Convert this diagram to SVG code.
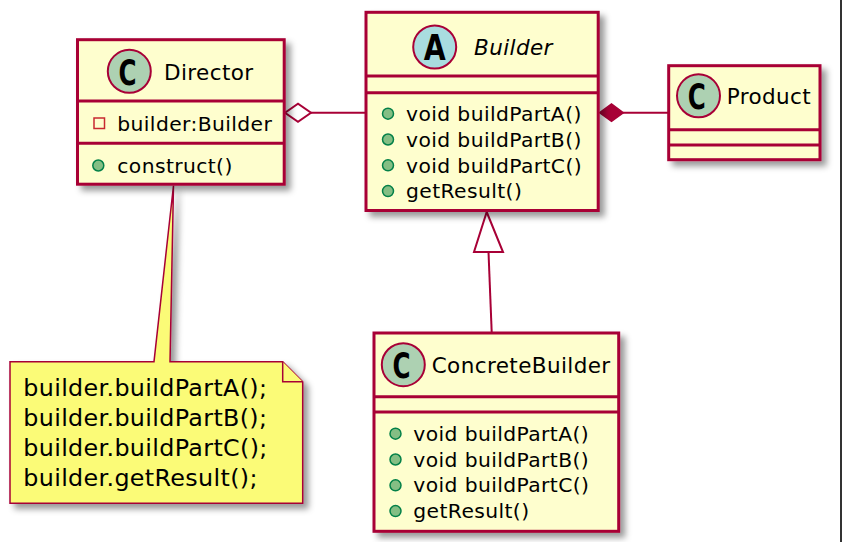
<svg xmlns="http://www.w3.org/2000/svg" width="842" height="542" viewBox="0 0 842 542">
<defs>
<filter id="sh" x="-10%" y="-10%" width="130%" height="130%">
<feGaussianBlur in="SourceAlpha" stdDeviation="3.2"/>
<feOffset dx="5" dy="5" result="b"/>
<feFlood flood-color="#000" flood-opacity="0.4"/>
<feComposite in2="b" operator="in"/>
<feMerge><feMergeNode/><feMergeNode in="SourceGraphic"/></feMerge>
</filter>
<style>
.box{fill:#FEFECE;stroke:#A80036;stroke-width:3}
.sep{stroke:#A80036;stroke-width:3;fill:none}
.hdr{font-family:"DejaVu Sans",sans-serif;font-size:21.5px;letter-spacing:0.4px;fill:#000}
.it{font-style:italic}
.mem{font-family:"DejaVu Sans",sans-serif;font-size:20.3px;letter-spacing:0.4px;fill:#000}
.nt{font-family:"DejaVu Sans",sans-serif;font-size:23.8px;letter-spacing:0.35px;fill:#000}
.cc{fill:#ADD1B2;stroke:#A80036;stroke-width:2}
.ca{fill:#A9DCDF;stroke:#A80036;stroke-width:2}
.glyph{font-family:"DejaVu Sans",sans-serif;font-weight:bold;font-size:36px;fill:#000;text-anchor:middle}
.pub{fill:#84BE84;stroke:#038048;stroke-width:1.5}
.priv{fill:none;stroke:#C82930;stroke-width:1.5}
.ln{stroke:#A80036;stroke-width:2;fill:none}
.note{fill:#FBFB77;stroke:#A80036;stroke-width:1.5}
</style>
</defs>
<rect x="0" y="0" width="842" height="542" fill="#FFFFFF"/>
<rect x="840" y="0" width="2" height="542" fill="#333333"/>

<g id="connectors">
<line class="ln" x1="311" y1="112.7" x2="366" y2="112.7"/>
<polygon points="285,112.7 298,103.7 311,112.7 298,121.7" fill="#FFFFFF" stroke="#A80036" stroke-width="2"/>
<line class="ln" x1="623" y1="112.7" x2="668" y2="112.7"/>
<polygon points="599.7,112.7 611.5,104 623.3,112.7 611.5,121.4" fill="#A80036" stroke="#A80036" stroke-width="1.5"/>
<line class="ln" x1="488.5" y1="252" x2="491.7" y2="332"/>
<polygon points="486.7,212 503,252 474,252" fill="#FFFFFF" stroke="#A80036" stroke-width="2"/>
</g>

<g id="note">
<path class="note" filter="url(#sh)" d="M10,361.7 L154,361.7 L173.5,185.5 L170,361.7 L282.7,361.7 L302.7,381.7 L302.7,503.3 L10,503.3 Z"/>
<path class="note" d="M282.7,361.7 L282.7,381.7 L302.7,381.7"/>
<text class="nt" x="23.3" y="396">builder.buildPartA();</text>
<text class="nt" x="23.3" y="426">builder.buildPartB();</text>
<text class="nt" x="23.3" y="456">builder.buildPartC();</text>
<text class="nt" x="23.3" y="486">builder.getResult();</text>
</g>

<g id="Director">
<rect class="box" filter="url(#sh)" x="77.5" y="39.7" width="206.7" height="144.5"/>
<line class="sep" x1="77.5" y1="101" x2="284.2" y2="101"/>
<line class="sep" x1="77.5" y1="143.3" x2="284.2" y2="143.3"/>
<circle class="cc" cx="129.3" cy="71.3" r="21.5"/>
<text class="glyph" x="127.5" y="84.5" textLength="18" lengthAdjust="spacingAndGlyphs">C</text>
<text class="hdr" x="164" y="79.5">Director</text>
<rect class="priv" x="94" y="118" width="10.5" height="10.5"/>
<text class="mem" x="117.3" y="130.7">builder:Builder</text>
<circle class="pub" cx="98.3" cy="165.5" r="5.5"/>
<text class="mem" x="117.3" y="172.7">construct()</text>
</g>

<g id="Builder">
<rect class="box" filter="url(#sh)" x="366" y="12.3" width="232.2" height="198.2"/>
<line class="sep" x1="366" y1="76" x2="598.2" y2="76"/>
<line class="sep" x1="366" y1="92.7" x2="598.2" y2="92.7"/>
<circle class="ca" cx="434.7" cy="47" r="21.5"/>
<text class="glyph" x="434.7" y="60" textLength="22" lengthAdjust="spacingAndGlyphs">A</text>
<text class="hdr it" x="474" y="54.5">Builder</text>
<circle class="pub" cx="388" cy="113.7" r="5.5"/>
<text class="mem" x="406" y="121">void buildPartA()</text>
<circle class="pub" cx="388" cy="139.5" r="5.5"/>
<text class="mem" x="406" y="146.8">void buildPartB()</text>
<circle class="pub" cx="388" cy="165.3" r="5.5"/>
<text class="mem" x="406" y="172.6">void buildPartC()</text>
<circle class="pub" cx="388" cy="191.1" r="5.5"/>
<text class="mem" x="406" y="198.4">getResult()</text>
</g>

<g id="Product">
<rect class="box" filter="url(#sh)" x="668.7" y="65.7" width="151.3" height="94"/>
<line class="sep" x1="668.7" y1="129.7" x2="820" y2="129.7"/>
<line class="sep" x1="668.7" y1="145" x2="820" y2="145"/>
<circle class="cc" cx="698.5" cy="95.8" r="21.5"/>
<text class="glyph" x="696.7" y="109" textLength="18" lengthAdjust="spacingAndGlyphs">C</text>
<text class="hdr" x="726.7" y="104">Product</text>
</g>

<g id="ConcreteBuilder">
<rect class="box" filter="url(#sh)" x="374" y="333" width="244.7" height="198.3"/>
<line class="sep" x1="374" y1="396.7" x2="618.7" y2="396.7"/>
<line class="sep" x1="374" y1="412" x2="618.7" y2="412"/>
<circle class="cc" cx="403.3" cy="364.7" r="21.5"/>
<text class="glyph" x="401.5" y="378" textLength="18" lengthAdjust="spacingAndGlyphs">C</text>
<text class="hdr" x="431.7" y="372.5">ConcreteBuilder</text>
<circle class="pub" cx="395.5" cy="433.7" r="5.5"/>
<text class="mem" x="413.3" y="440.7">void buildPartA()</text>
<circle class="pub" cx="395.5" cy="459.5" r="5.5"/>
<text class="mem" x="413.3" y="466.5">void buildPartB()</text>
<circle class="pub" cx="395.5" cy="485.3" r="5.5"/>
<text class="mem" x="413.3" y="492.3">void buildPartC()</text>
<circle class="pub" cx="395.5" cy="511.1" r="5.5"/>
<text class="mem" x="413.3" y="518.1">getResult()</text>
</g>
</svg>
